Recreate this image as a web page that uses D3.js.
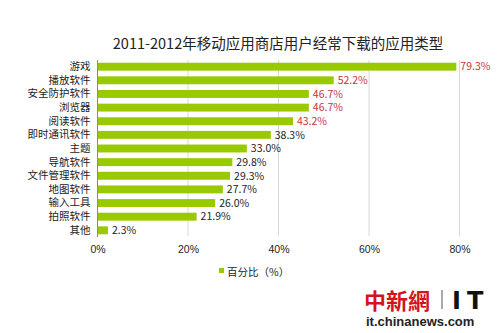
<!DOCTYPE html>
<html>
<head>
<meta charset="utf-8">
<script src="https://cdn.jsdelivr.net/npm/d3@7/dist/d3.min.js"></script>
<style>
  html, body { margin: 0; padding: 0; background: #fff; }
  svg { display: block; font-family: "Noto Sans CJK SC", "Noto Sans", sans-serif; }
</style>
</head>
<body>
<svg id="chart" width="500" height="333"></svg>
<script>
// App categories and share of users downloading them (%)
const categories = ["游戏", "播放软件", "安全防护软件", "浏览器", "阅读软件", "即时通讯软件", "主题",
  "导航软件", "文件管理软件", "地图软件", "输入工具", "拍照软件", "其他"];
const values = [79.3, 52.2, 46.7, 46.7, 43.2, 38.3, 33.0, 29.8, 29.3, 27.7, 26.0, 21.9, 2.3];
const highlighted = [true, true, true, true, true, false, false, false, false, false, false, false, false];
const xTicks = [0, 20, 40, 60, 80];
const titleText = "2011-2012年移动应用商店用户经常下载的应用类型";
const legendText = "百分比（%）";

const svg = d3.select("#chart");

const x = d3.scaleLinear().domain([0, 80]).range([97.5, 459.5]);
const y = d3.scaleBand().domain(categories).range([60, 237]).paddingInner(0.42).paddingOuter(0.2);

// Title
svg.append("text")
  .attr("x", 278).attr("y", 49)
  .attr("text-anchor", "middle")
  .attr("font-size", 14.5)
  .attr("fill", "#222")
  .text(titleText);

// Vertical gridlines
svg.append("g")
  .selectAll("line")
  .data(xTicks.slice(1))
  .join("line")
  .attr("x1", d => x(d)).attr("x2", d => x(d))
  .attr("y1", 60).attr("y2", 236)
  .attr("stroke", "#d8d8d8")
  .attr("stroke-width", 1);

// Bars
svg.append("g")
  .selectAll("rect")
  .data(values)
  .join("rect")
  .attr("x", x(0))
  .attr("y", (d, i) => y(categories[i]))
  .attr("width", d => x(d) - x(0))
  .attr("height", y.bandwidth())
  .attr("fill", "#99c900");

// Category axis
const yAxis = svg.append("g")
  .attr("transform", `translate(${x(0)},0)`)
  .call(d3.axisLeft(y).tickSize(0).tickPadding(7));
yAxis.select(".domain").attr("stroke", "#8a8a8a").attr("d", "M0,60V237");
yAxis.selectAll("text")
  .attr("font-size", 10.5)
  .attr("fill", "#222")
  .attr("font-family", "'Noto Sans CJK SC', sans-serif");

// Value labels
svg.append("g")
  .selectAll("text")
  .data(values)
  .join("text")
  .attr("x", d => x(d) + 4)
  .attr("y", (d, i) => y(categories[i]) + y.bandwidth() / 2)
  .attr("dy", "0.36em")
  .attr("font-size", 10.5)
  .attr("fill", (d, i) => highlighted[i] ? "#c8323c" : "#222")
  .text(d => d.toFixed(1) + "%");

// Percentage axis
const xAxis = svg.append("g")
  .attr("transform", "translate(0,237)")
  .call(d3.axisBottom(x).tickValues(xTicks).tickSize(0).tickPadding(9).tickFormat(d => d + "%"));
xAxis.select(".domain").remove();
xAxis.selectAll("text").attr("font-size", 10.5).attr("fill", "#222");

// Legend
const legend = svg.append("g").attr("transform", "translate(219,272)");
legend.append("rect").attr("x", 0).attr("y", -4).attr("width", 5).attr("height", 5).attr("fill", "#99c900");
legend.append("text").attr("x", 8).attr("y", 0).attr("dy", "0.35em")
  .attr("font-size", 10.5).attr("fill", "#222").text(legendText);

// Source mark
const mark = svg.append("g");
mark.append("text").attr("x", 364).attr("y", 309)
  .attr("font-size", 22).attr("font-weight", "bold").attr("fill", "#d3141c")
  .attr("font-family", "'Noto Sans CJK TC', sans-serif")
  .text("中新網");
mark.append("rect").attr("x", 441).attr("y", 290).attr("width", 2).attr("height", 19).attr("fill", "#aaa");
mark.append("text").attr("x", 452).attr("y", 309)
  .attr("font-size", 24).attr("font-weight", "900").attr("fill", "#111")
  .attr("font-family", "'DejaVu Sans', sans-serif")
  .attr("letter-spacing", 6)
  .text("IT");
mark.append("text").attr("x", 366).attr("y", 326)
  .attr("font-size", 13).attr("font-weight", "bold").attr("fill", "#222")
  .attr("font-family", "'Liberation Sans', Arial, sans-serif")
  .text("it.chinanews.com");
</script>
</body>
</html>
